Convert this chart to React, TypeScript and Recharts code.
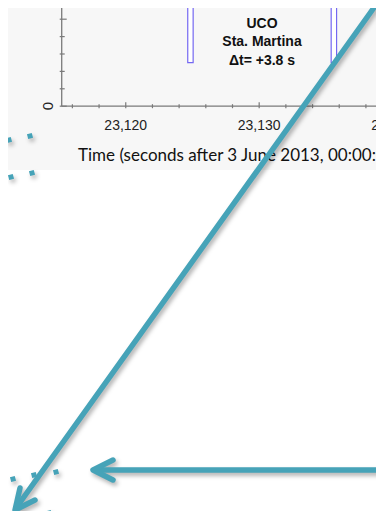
import { ComposedChart, Bar, XAxis, YAxis } from 'recharts';

// pulse times (s after 3 June 2013 00:00:00) and their value range
const pulseTimes = [23124.85, 23135.6];
const pulseLow = [2.5, 2.5];
const pulseHigh = [8, 8];

const xTicks = [23116, 23118, 23120, 23122, 23124, 23126, 23128, 23130, 23132, 23134, 23136, 23138, 23140, 23142, 23144];
const yTicks = [0, 1, 2, 3, 4, 5, 6, 7, 8];
const noteLines = ['UCO', 'Sta. Martina', 'Δt= +3.8 s'];

const data = pulseTimes.map((t, i) => ({ t, range: [pulseLow[i], pulseHigh[i]] }));

const TEAL = '#46a3b8';
const AXIS = '#7a7a7a';

const XTick = ({ x, y, payload }: any) => {
  const major = payload.value % 10 === 0;
  return (
    <g>
      <line x1={x} x2={x} y1={y} y2={y - (major ? 6 : 4)} stroke={AXIS} strokeWidth={1.2} />
      {major && (
        <text x={x} y={y + 22} textAnchor="middle" fontSize={14} fill="#222" fontFamily="'Liberation Sans', Arial, sans-serif">
          {payload.value.toLocaleString('en-US')}
        </text>
      )}
    </g>
  );
};

const YTick = ({ x, y, payload }: any) => {
  const major = payload.value % 5 === 0;
  return (
    <g>
      <line x1={x} x2={x + (major ? 7 : 5)} y1={y} y2={y} stroke={AXIS} strokeWidth={1.2} />
      {payload.value === 0 && (
        <text x={x - 12} y={y} textAnchor="middle" dominantBaseline="central" fontSize={15} fill="#222"
          transform={`rotate(-90 ${x - 12} ${y})`} fontFamily="'Liberation Sans', Arial, sans-serif">
          0
        </text>
      )}
    </g>
  );
};

// small teal squares of the slide decoration
const dots = [
  [9, 140], [30, 136], [11, 177], [32, 173],
  [13, 479], [34, 475], [56, 472], [6, 519], [28, 516], [49, 513],
];

export default function App() {
  return (
    <div style={{ position: 'relative', width: 384, height: 519, margin: -8, overflow: 'hidden', background: '#fff' }}>
      <div style={{ position: 'absolute', left: 7, top: 0, width: 377, height: 170, background: '#f7f7f7' }} />

      <div style={{ position: 'absolute', left: 0, top: -38.5 }}>
        <ComposedChart width={458} height={174.2} data={data} margin={{ top: 5, right: 0, left: 0, bottom: 0 }}>
          <XAxis
            dataKey="t"
            type="number"
            domain={[23115.2, 23144.9]}
            ticks={xTicks}
            tick={<XTick />}
            tickSize={0}
            tickLine={false}
            interval={0}
            height={30}
            stroke={AXIS}
            strokeWidth={1.3}
            allowDataOverflow
          />
          <YAxis
            type="number"
            domain={[0, 8]}
            ticks={yTicks}
            tick={<YTick />}
            tickSize={0}
            tickLine={false}
            interval={0}
            width={61.7}
            stroke={AXIS}
            strokeWidth={1.3}
            allowDataOverflow
          />
          <Bar dataKey="range" barSize={5.4} fill="#fff" stroke="#7468f2" strokeWidth={1.2} isAnimationActive={false} />
        </ComposedChart>
      </div>

      <div style={{
        position: 'absolute', left: 200, top: 14, width: 124, textAlign: 'center',
        font: "bold 14px 'Liberation Sans', Arial, sans-serif", lineHeight: '18.3px', color: '#111',
      }}>
        {noteLines.map((l) => <div key={l}>{l}</div>)}
      </div>

      <div style={{
        position: 'absolute', left: 78, top: 144, whiteSpace: 'nowrap',
        font: "17px Lato, 'Open Sans', sans-serif", color: '#111',
      }}>
        Time (seconds after 3 June 2013, 00:00:00 UTC)
      </div>

      <svg width={384} height={519} style={{ position: 'absolute', left: 0, top: 0, filter: 'drop-shadow(2px 3px 2px rgba(0,0,0,0.3))' }}>
        <g stroke={TEAL} strokeWidth={5.5} strokeLinecap="round" strokeLinejoin="round" fill="none">
          <line x1={378} y1={2} x2={16} y2={508} />
          <polyline points="20,488 15,510 35,500" />
          <line x1={378} y1={470} x2={95} y2={470} />
          <polyline points="113,460 93,470 113,480" />
        </g>
        {dots.map(([x, y], i) => (
          <rect key={i} x={x - 2.5} y={y - 2.5} width={5} height={5} fill={TEAL} transform={`rotate(-15 ${x} ${y})`} />
        ))}
      </svg>
    </div>
  );
}
